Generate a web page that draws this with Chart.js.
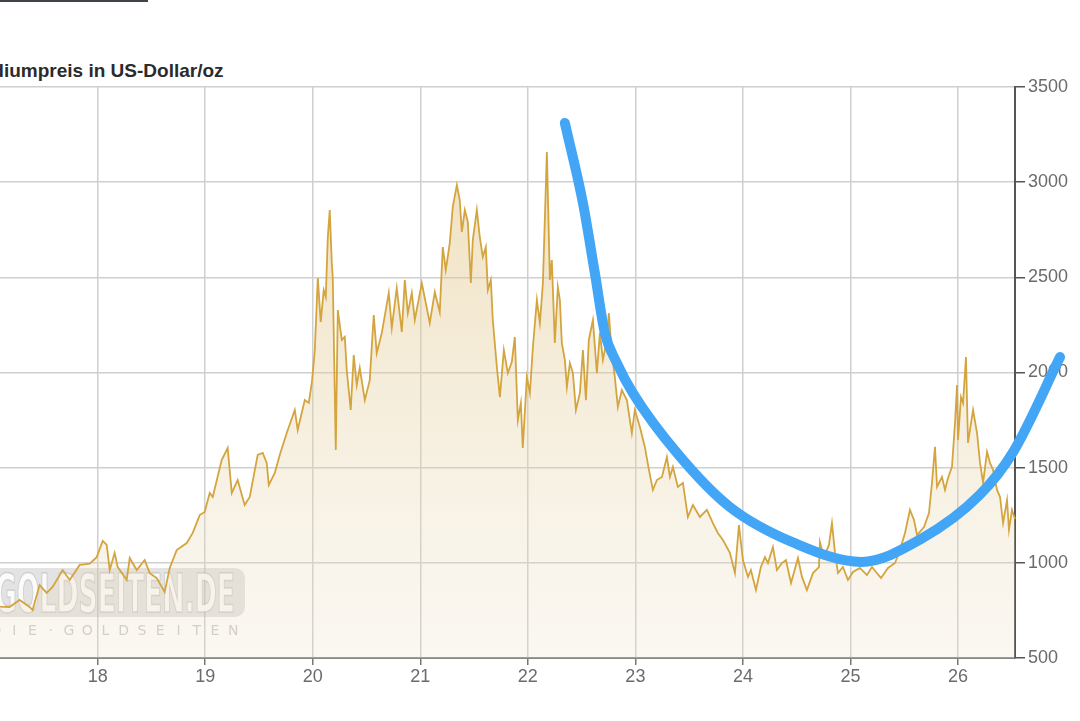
<!DOCTYPE html>
<html>
<head>
<meta charset="utf-8">
<script src="https://cdn.jsdelivr.net/npm/chart.js@4"></script>
<style>
  html, body { margin: 0; padding: 0; background: #fff; overflow: hidden; width: 1080px; height: 721px; }
  #bar { position: absolute; left: 0; top: 0; width: 148px; height: 2px; background: #3d4349; }
  #title { position: absolute; left: -52px; top: 61px; font: bold 19px "Liberation Sans", Arial, sans-serif; line-height: 19px; color: #2b2b2b; white-space: nowrap; }
  #wrap { position: absolute; left: -60px; top: 0; width: 1140px; height: 721px; }
</style>
</head>
<body>
<div id="bar"></div>
<div id="title">Palladiumpreis in US-Dollar/oz</div>
<div id="wrap"><canvas id="palladiumChart" width="1140" height="721"></canvas></div>
<script>
// x values are years as 17 = 2017 etc.
const years = [16.85, 16.98, 17.088, 17.181, 17.274, 17.367, 17.395, 17.460, 17.526, 17.581, 17.674, 17.740, 17.833, 17.926, 17.991,
  18.047, 18.084, 18.112, 18.158, 18.186, 18.270, 18.298, 18.363, 18.437, 18.484, 18.549, 18.623, 18.670, 18.735, 18.828, 18.884, 18.949, 18.995,
  19.042, 19.070, 19.153, 19.209, 19.247, 19.302, 19.367, 19.414, 19.488, 19.535, 19.572, 19.591, 19.647, 19.693, 19.758, 19.833, 19.860, 19.926, 19.963, 19.991,
  20.000, 20.019, 20.047, 20.074, 20.102, 20.121, 20.140, 20.158, 20.177, 20.186, 20.214, 20.233, 20.270, 20.298, 20.316, 20.353, 20.381, 20.409, 20.437, 20.484,
  20.530, 20.567, 20.595, 20.642, 20.679, 20.707, 20.735, 20.781, 20.828, 20.856, 20.884, 20.921, 20.949,
  21.014, 21.051, 21.088, 21.135, 21.181, 21.209, 21.237, 21.274, 21.302, 21.340, 21.367, 21.386, 21.414, 21.442, 21.470, 21.488, 21.526, 21.553, 21.581,
  21.609, 21.628, 21.656, 21.674, 21.712, 21.740, 21.777, 21.814, 21.851, 21.879, 21.907, 21.935, 21.953, 21.991,
  22.019, 22.047, 22.084, 22.112, 22.140, 22.177, 22.205, 22.223, 22.251, 22.279, 22.298, 22.316, 22.344, 22.363, 22.391, 22.419, 22.447, 22.484,
  22.512, 22.540, 22.567, 22.605, 22.642, 22.670, 22.698, 22.735, 22.753, 22.781, 22.809, 22.837, 22.874, 22.921, 22.967, 22.995,
  23.042, 23.088, 23.126, 23.163, 23.200, 23.247, 23.293, 23.321, 23.349, 23.395, 23.442, 23.488, 23.535, 23.600, 23.665, 23.721, 23.767, 23.814, 23.879, 23.926, 23.963,
  24.000, 24.047, 24.074, 24.121, 24.167, 24.205, 24.233, 24.279, 24.316, 24.363, 24.400, 24.447, 24.512, 24.549, 24.595, 24.651, 24.707, 24.716, 24.753, 24.800,
  24.828, 24.856, 24.884, 24.930, 24.977, 25.023, 25.088, 25.153, 25.200, 25.284, 25.349, 25.414, 25.460, 25.507, 25.553, 25.591, 25.619, 25.684, 25.730,
  25.758, 25.786, 25.805, 25.851, 25.879, 25.907, 25.944, 25.972, 25.991, 26.000, 26.028, 26.047, 26.074, 26.093, 26.121, 26.140, 26.177, 26.205, 26.233,
  26.270, 26.298, 26.326, 26.363, 26.391, 26.419, 26.456, 26.474, 26.502, 26.530];
const prices = [760, 790, 770, 768, 805, 768, 752, 883, 842, 873, 962, 910, 989, 996, 1030,
  1115, 1094, 962, 1052, 978, 910, 1025, 962, 1015, 946, 920, 847, 973, 1067, 1104, 1157, 1251, 1267,
  1367, 1346, 1540, 1603, 1367, 1435, 1304, 1346, 1567, 1577, 1525, 1409, 1472, 1567, 1682, 1803, 1698, 1855, 1840, 1945,
  1997, 2118, 2496, 2265, 2433, 2397, 2712, 2854, 2575, 2502, 1593, 2328, 2171, 2187, 2013, 1803, 2092, 1934, 2024, 1855,
  1960, 2302, 2102, 2208, 2328, 2418, 2234, 2444, 2213, 2486, 2312, 2418, 2276,
  2470, 2365, 2260, 2423, 2318, 2659, 2539, 2680, 2870, 2985, 2906, 2738, 2854, 2791, 2470, 2696, 2854, 2712, 2607,
  2659, 2433, 2486, 2276, 2029, 1871, 2118, 1997, 2055, 2187, 1750, 1840, 1603, 1976,
  1892, 2134, 2381, 2260, 2470, 3158, 2486, 2591, 2155, 2449, 2381, 2155, 2066, 1924, 2050, 1997, 1803, 1892,
  2118, 1855, 2171, 2276, 1997, 2208, 2066, 2171, 2312, 2102, 1976, 1819, 1908, 1855, 1682, 1803,
  1714, 1609, 1488, 1383, 1435, 1451, 1556, 1451, 1504, 1399, 1420, 1241, 1304, 1241, 1278, 1209, 1157, 1120, 1052, 946, 1199,
  1015, 926, 962, 857, 978, 1030, 999, 1083, 962, 999, 1015, 894, 1025, 926, 857, 946, 978, 1109, 1030, 1094,
  1209, 1052, 946, 978, 910, 952, 973, 936, 978, 920, 973, 999, 1067, 1157, 1278, 1225, 1146, 1188, 1262,
  1420, 1609, 1399, 1451, 1383, 1446, 1504, 1735, 1934, 1645, 1871, 1840, 2081, 1630, 1735, 1803, 1682, 1525, 1420,
  1583, 1525, 1488, 1383, 1346, 1209, 1330, 1173, 1278, 1230];

// hand drawn blue curve on top of the chart
const trendYears = [22.344, 22.512, 22.623, 22.716, 22.828, 22.977, 23.395, 23.88, 24.5, 25.1, 25.65, 26.2, 26.512, 26.949];
const trendValues = [3311, 2891, 2523, 2208, 2050, 1892, 1572, 1293, 1099, 1005, 1123, 1356, 1582, 2081];

const yearTicks = [17, 18, 19, 20, 21, 22, 23, 24, 25, 26];
const yearLabels = ['17', '18', '19', '20', '21', '22', '23', '24', '25', '26'];
const priceTicks = [500, 1000, 1500, 2000, 2500, 3000, 3500];
const priceLabels = ['500', '1000', '1500', '2000', '2500', '3000', '3500'];

const xMin = 16.85, xMax = 26.53;
const tickFont = {family: '"Liberation Sans", Arial, sans-serif', size: 18};

const watermark = {
  id: 'watermark',
  beforeDatasetsDraw(chart) {
    const c = chart.ctx, a = chart.chartArea;
    c.save();
    c.fillStyle = 'rgba(175,175,175,0.35)';
    c.beginPath();
    c.roundRect(a.left - 20, a.bottom - 90, 291, 49, 10);
    c.fill();
    // big letters, squeezed to fit the box
    c.font = 'bold 54px "DejaVu Sans Condensed", sans-serif';
    const txt = 'GOLDSEITEN.DE';
    const w = c.measureText(txt).width;
    c.translate(a.left + 21, a.bottom - 46);
    c.scale(240 / w, 1);
    c.fillStyle = 'rgba(255,255,255,0.85)';
    c.strokeStyle = 'rgba(150,150,150,0.35)';
    c.lineWidth = 1.5;
    c.fillText(txt, 0, 0);
    c.strokeText(txt, 0, 0);
    c.restore();
    c.save();
    c.font = '14px "DejaVu Sans", sans-serif';
    c.fillStyle = 'rgba(190,190,190,0.8)';
    c.textAlign = 'center';
    const small = 'DIE·GOLDSEITEN';
    for (let i = 0; i < small.length; i++) {
      c.fillText(small[i], a.left + 22 + i * 18.25, a.bottom - 23);
    }
    c.restore();
  }
};

const dataPalladium = {
  datasets: [{
    label: 'Palladiumpreis',
    data: years.map((x, i) => ({x: x, y: prices[i]})),
    borderColor: '#d4a53f',
    borderWidth: 1.8,
    pointRadius: 0,
    tension: 0,
    fill: 'start',
    order: 1,
    backgroundColor: function(context) {
      const chart = context.chart;
      const area = chart.chartArea;
      if (!area) return null;
      const g = chart.ctx.createLinearGradient(0, area.top, 0, area.bottom);
      g.addColorStop(0, 'rgba(224,192,120,0.55)');
      g.addColorStop(1, 'rgba(235,222,195,0.22)');
      return g;
    }
  }, {
    label: 'Trend',
    data: trendYears.map((x, i) => ({x: x, y: trendValues[i]})),
    borderColor: '#42a5f5',
    borderWidth: 10,
    borderCapStyle: 'round',
    borderJoinStyle: 'round',
    pointRadius: 0,
    cubicInterpolationMode: 'monotone',
    fill: false,
    clip: false,
    order: 0
  }]
};

const configPalladium = {
  type: 'line',
  data: dataPalladium,
  plugins: [watermark],
  options: {
    responsive: false,
    animation: false,
    layout: {padding: {left: 34, top: 87, right: 10, bottom: 33}},
    plugins: {legend: {display: false}, tooltip: {enabled: false}, title: {display: false}},
    scales: {
      x: {
        type: 'linear',
        bounds: 'data',
        afterDataLimits: s => { s.min = xMin; s.max = xMax; },
        afterBuildTicks: s => { s.ticks = yearTicks.map(v => ({value: v})); },
        afterFit: s => { s.height = 30; },
        grid: {color: '#cfcfcf', lineWidth: 1.5, tickColor: '#777', tickLength: 7},
        border: {color: '#888', width: 2},
        ticks: {font: tickFont, color: '#6b6b6b', padding: 1, maxRotation: 0, autoSkip: false,
          callback: (v, i) => yearLabels[i]}
      },
      y: {
        position: 'right',
        min: 500,
        max: 3500,
        afterBuildTicks: s => { s.ticks = priceTicks.map(v => ({value: v})); },
        afterFit: s => { s.width = 55; },
        grid: {color: '#cfcfcf', lineWidth: 1.5, tickColor: '#555', tickLength: 10},
        border: {color: '#555', width: 2},
        ticks: {font: tickFont, color: '#6b6b6b', padding: 3,
          callback: (v, i) => priceLabels[i]}
      }
    }
  }
};

const chartPalladium = new Chart(document.getElementById('palladiumChart'), configPalladium);
</script>
</body>
</html>
